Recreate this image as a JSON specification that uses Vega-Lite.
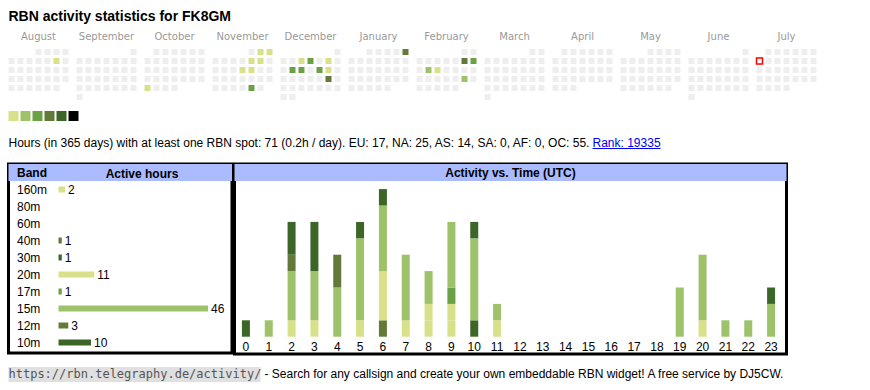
{
"$schema":"https://vega.github.io/schema/vega-lite/v6.json",
"padding":{"left":6.5,"top":0,"right":0,"bottom":0},
"background":"white",
"bounds":"flush",
"spacing":0,
"config":{"view":{"stroke":null},"font":"Liberation Sans","text":{"font":"Liberation Sans"},"axis":{"labelFont":"Liberation Sans","titleFont":"Liberation Sans"}},
"resolve":{"scale":{"fill":"independent","color":"independent"}},
"vconcat":[
{"width":808,"height":49,
 "data":{"values":[{"t":"RBN activity statistics for FK8GM"}]},
 "mark":{"type":"text","align":"left","baseline":"alphabetic","font":"Liberation Sans","fontSize":14,"fontWeight":"bold","color":"#000000"},
 "encoding":{"text":{"field":"t"},"x":{"value":0},"y":{"value":21}}},
{"width":808,"height":62,
 "data":{"values":[
{"m":"August","r":0,"c":3,"v":0},{"m":"August","r":0,"c":4,"v":0},{"m":"August","r":0,"c":5,"v":0},{"m":"August","r":0,"c":6,"v":0},
{"m":"August","r":1,"c":0,"v":0},{"m":"August","r":1,"c":1,"v":0},{"m":"August","r":1,"c":2,"v":0},{"m":"August","r":1,"c":3,"v":0},{"m":"August","r":1,"c":4,"v":0},{"m":"August","r":1,"c":5,"v":1},{"m":"August","r":1,"c":6,"v":0},
{"m":"August","r":2,"c":0,"v":0},{"m":"August","r":2,"c":1,"v":0},{"m":"August","r":2,"c":2,"v":0},{"m":"August","r":2,"c":3,"v":0},{"m":"August","r":2,"c":4,"v":0},{"m":"August","r":2,"c":5,"v":0},{"m":"August","r":2,"c":6,"v":0},
{"m":"August","r":3,"c":0,"v":0},{"m":"August","r":3,"c":1,"v":0},{"m":"August","r":3,"c":2,"v":0},{"m":"August","r":3,"c":3,"v":0},{"m":"August","r":3,"c":4,"v":0},{"m":"August","r":3,"c":5,"v":0},{"m":"August","r":3,"c":6,"v":0},
{"m":"August","r":4,"c":0,"v":0},{"m":"August","r":4,"c":1,"v":0},{"m":"August","r":4,"c":2,"v":0},{"m":"August","r":4,"c":3,"v":0},{"m":"August","r":4,"c":4,"v":0},{"m":"August","r":4,"c":5,"v":0},
{"m":"September","r":0,"c":6,"v":0},
{"m":"September","r":1,"c":0,"v":0},{"m":"September","r":1,"c":1,"v":0},{"m":"September","r":1,"c":2,"v":0},{"m":"September","r":1,"c":3,"v":0},{"m":"September","r":1,"c":4,"v":0},{"m":"September","r":1,"c":5,"v":0},{"m":"September","r":1,"c":6,"v":0},
{"m":"September","r":2,"c":0,"v":0},{"m":"September","r":2,"c":1,"v":0},{"m":"September","r":2,"c":2,"v":0},{"m":"September","r":2,"c":3,"v":0},{"m":"September","r":2,"c":4,"v":0},{"m":"September","r":2,"c":5,"v":0},{"m":"September","r":2,"c":6,"v":0},
{"m":"September","r":3,"c":0,"v":0},{"m":"September","r":3,"c":1,"v":0},{"m":"September","r":3,"c":2,"v":0},{"m":"September","r":3,"c":3,"v":0},{"m":"September","r":3,"c":4,"v":0},{"m":"September","r":3,"c":5,"v":0},{"m":"September","r":3,"c":6,"v":0},
{"m":"September","r":4,"c":0,"v":0},{"m":"September","r":4,"c":1,"v":0},{"m":"September","r":4,"c":2,"v":0},{"m":"September","r":4,"c":3,"v":0},{"m":"September","r":4,"c":4,"v":0},{"m":"September","r":4,"c":5,"v":0},{"m":"September","r":4,"c":6,"v":0},
{"m":"September","r":5,"c":0,"v":0},
{"m":"October","r":0,"c":1,"v":0},{"m":"October","r":0,"c":2,"v":0},{"m":"October","r":0,"c":3,"v":0},{"m":"October","r":0,"c":4,"v":0},{"m":"October","r":0,"c":5,"v":0},{"m":"October","r":0,"c":6,"v":0},
{"m":"October","r":1,"c":0,"v":0},{"m":"October","r":1,"c":1,"v":0},{"m":"October","r":1,"c":2,"v":0},{"m":"October","r":1,"c":3,"v":0},{"m":"October","r":1,"c":4,"v":0},{"m":"October","r":1,"c":5,"v":0},{"m":"October","r":1,"c":6,"v":0},
{"m":"October","r":2,"c":0,"v":0},{"m":"October","r":2,"c":1,"v":0},{"m":"October","r":2,"c":2,"v":0},{"m":"October","r":2,"c":3,"v":0},{"m":"October","r":2,"c":4,"v":0},{"m":"October","r":2,"c":5,"v":0},{"m":"October","r":2,"c":6,"v":0},
{"m":"October","r":3,"c":0,"v":0},{"m":"October","r":3,"c":1,"v":0},{"m":"October","r":3,"c":2,"v":0},{"m":"October","r":3,"c":3,"v":0},{"m":"October","r":3,"c":4,"v":0},{"m":"October","r":3,"c":5,"v":0},{"m":"October","r":3,"c":6,"v":0},
{"m":"October","r":4,"c":0,"v":1},{"m":"October","r":4,"c":1,"v":0},{"m":"October","r":4,"c":2,"v":0},{"m":"October","r":4,"c":3,"v":0},
{"m":"November","r":0,"c":4,"v":0},{"m":"November","r":0,"c":5,"v":1},{"m":"November","r":0,"c":6,"v":1},
{"m":"November","r":1,"c":0,"v":0},{"m":"November","r":1,"c":1,"v":0},{"m":"November","r":1,"c":2,"v":0},{"m":"November","r":1,"c":3,"v":0},{"m":"November","r":1,"c":4,"v":1},{"m":"November","r":1,"c":5,"v":1},{"m":"November","r":1,"c":6,"v":0},
{"m":"November","r":2,"c":0,"v":0},{"m":"November","r":2,"c":1,"v":0},{"m":"November","r":2,"c":2,"v":0},{"m":"November","r":2,"c":3,"v":1},{"m":"November","r":2,"c":4,"v":1},{"m":"November","r":2,"c":5,"v":0},{"m":"November","r":2,"c":6,"v":0},
{"m":"November","r":3,"c":0,"v":0},{"m":"November","r":3,"c":1,"v":0},{"m":"November","r":3,"c":2,"v":0},{"m":"November","r":3,"c":3,"v":0},{"m":"November","r":3,"c":4,"v":0},{"m":"November","r":3,"c":5,"v":0},{"m":"November","r":3,"c":6,"v":0},
{"m":"November","r":4,"c":0,"v":0},{"m":"November","r":4,"c":1,"v":0},{"m":"November","r":4,"c":2,"v":0},{"m":"November","r":4,"c":3,"v":0},{"m":"November","r":4,"c":4,"v":3},{"m":"November","r":4,"c":5,"v":0},
{"m":"December","r":0,"c":6,"v":0},
{"m":"December","r":1,"c":0,"v":0},{"m":"December","r":1,"c":1,"v":0},{"m":"December","r":1,"c":2,"v":1},{"m":"December","r":1,"c":3,"v":3},{"m":"December","r":1,"c":4,"v":0},{"m":"December","r":1,"c":5,"v":1},{"m":"December","r":1,"c":6,"v":0},
{"m":"December","r":2,"c":0,"v":0},{"m":"December","r":2,"c":1,"v":3},{"m":"December","r":2,"c":2,"v":3},{"m":"December","r":2,"c":3,"v":0},{"m":"December","r":2,"c":4,"v":3},{"m":"December","r":2,"c":5,"v":1},{"m":"December","r":2,"c":6,"v":0},
{"m":"December","r":3,"c":0,"v":0},{"m":"December","r":3,"c":1,"v":0},{"m":"December","r":3,"c":2,"v":0},{"m":"December","r":3,"c":3,"v":0},{"m":"December","r":3,"c":4,"v":0},{"m":"December","r":3,"c":5,"v":4},{"m":"December","r":3,"c":6,"v":0},
{"m":"December","r":4,"c":0,"v":0},{"m":"December","r":4,"c":1,"v":0},{"m":"December","r":4,"c":2,"v":0},{"m":"December","r":4,"c":3,"v":0},{"m":"December","r":4,"c":4,"v":0},{"m":"December","r":4,"c":5,"v":0},{"m":"December","r":4,"c":6,"v":0},
{"m":"December","r":5,"c":0,"v":0},{"m":"December","r":5,"c":1,"v":0},
{"m":"January","r":0,"c":2,"v":0},{"m":"January","r":0,"c":3,"v":0},{"m":"January","r":0,"c":4,"v":0},{"m":"January","r":0,"c":5,"v":0},{"m":"January","r":0,"c":6,"v":4},
{"m":"January","r":1,"c":0,"v":0},{"m":"January","r":1,"c":1,"v":0},{"m":"January","r":1,"c":2,"v":0},{"m":"January","r":1,"c":3,"v":0},{"m":"January","r":1,"c":4,"v":0},{"m":"January","r":1,"c":5,"v":0},{"m":"January","r":1,"c":6,"v":0},
{"m":"January","r":2,"c":0,"v":0},{"m":"January","r":2,"c":1,"v":0},{"m":"January","r":2,"c":2,"v":0},{"m":"January","r":2,"c":3,"v":0},{"m":"January","r":2,"c":4,"v":0},{"m":"January","r":2,"c":5,"v":0},{"m":"January","r":2,"c":6,"v":0},
{"m":"January","r":3,"c":0,"v":0},{"m":"January","r":3,"c":1,"v":0},{"m":"January","r":3,"c":2,"v":0},{"m":"January","r":3,"c":3,"v":0},{"m":"January","r":3,"c":4,"v":0},{"m":"January","r":3,"c":5,"v":0},{"m":"January","r":3,"c":6,"v":0},
{"m":"January","r":4,"c":0,"v":0},{"m":"January","r":4,"c":1,"v":0},{"m":"January","r":4,"c":2,"v":0},{"m":"January","r":4,"c":3,"v":0},{"m":"January","r":4,"c":4,"v":0},
{"m":"February","r":0,"c":5,"v":0},{"m":"February","r":0,"c":6,"v":0},
{"m":"February","r":1,"c":0,"v":0},{"m":"February","r":1,"c":1,"v":0},{"m":"February","r":1,"c":2,"v":0},{"m":"February","r":1,"c":3,"v":0},{"m":"February","r":1,"c":4,"v":0},{"m":"February","r":1,"c":5,"v":4},{"m":"February","r":1,"c":6,"v":3},
{"m":"February","r":2,"c":0,"v":0},{"m":"February","r":2,"c":1,"v":2},{"m":"February","r":2,"c":2,"v":1},{"m":"February","r":2,"c":3,"v":0},{"m":"February","r":2,"c":4,"v":0},{"m":"February","r":2,"c":5,"v":0},{"m":"February","r":2,"c":6,"v":0},
{"m":"February","r":3,"c":0,"v":0},{"m":"February","r":3,"c":1,"v":0},{"m":"February","r":3,"c":2,"v":0},{"m":"February","r":3,"c":3,"v":0},{"m":"February","r":3,"c":4,"v":0},{"m":"February","r":3,"c":5,"v":2},{"m":"February","r":3,"c":6,"v":0},
{"m":"February","r":4,"c":0,"v":0},{"m":"February","r":4,"c":1,"v":0},{"m":"February","r":4,"c":2,"v":0},{"m":"February","r":4,"c":3,"v":0},{"m":"February","r":4,"c":4,"v":0},
{"m":"March","r":0,"c":5,"v":0},{"m":"March","r":0,"c":6,"v":0},
{"m":"March","r":1,"c":0,"v":0},{"m":"March","r":1,"c":1,"v":0},{"m":"March","r":1,"c":2,"v":0},{"m":"March","r":1,"c":3,"v":0},{"m":"March","r":1,"c":4,"v":0},{"m":"March","r":1,"c":5,"v":0},{"m":"March","r":1,"c":6,"v":0},
{"m":"March","r":2,"c":0,"v":0},{"m":"March","r":2,"c":1,"v":0},{"m":"March","r":2,"c":2,"v":0},{"m":"March","r":2,"c":3,"v":0},{"m":"March","r":2,"c":4,"v":0},{"m":"March","r":2,"c":5,"v":0},{"m":"March","r":2,"c":6,"v":0},
{"m":"March","r":3,"c":0,"v":0},{"m":"March","r":3,"c":1,"v":0},{"m":"March","r":3,"c":2,"v":0},{"m":"March","r":3,"c":3,"v":0},{"m":"March","r":3,"c":4,"v":0},{"m":"March","r":3,"c":5,"v":0},{"m":"March","r":3,"c":6,"v":0},
{"m":"March","r":4,"c":0,"v":0},{"m":"March","r":4,"c":1,"v":0},{"m":"March","r":4,"c":2,"v":0},{"m":"March","r":4,"c":3,"v":0},{"m":"March","r":4,"c":4,"v":0},{"m":"March","r":4,"c":5,"v":0},{"m":"March","r":4,"c":6,"v":0},
{"m":"March","r":5,"c":0,"v":0},
{"m":"April","r":0,"c":1,"v":0},{"m":"April","r":0,"c":2,"v":0},{"m":"April","r":0,"c":3,"v":0},{"m":"April","r":0,"c":4,"v":0},{"m":"April","r":0,"c":5,"v":0},{"m":"April","r":0,"c":6,"v":0},
{"m":"April","r":1,"c":0,"v":0},{"m":"April","r":1,"c":1,"v":0},{"m":"April","r":1,"c":2,"v":0},{"m":"April","r":1,"c":3,"v":0},{"m":"April","r":1,"c":4,"v":0},{"m":"April","r":1,"c":5,"v":0},{"m":"April","r":1,"c":6,"v":0},
{"m":"April","r":2,"c":0,"v":0},{"m":"April","r":2,"c":1,"v":0},{"m":"April","r":2,"c":2,"v":0},{"m":"April","r":2,"c":3,"v":0},{"m":"April","r":2,"c":4,"v":0},{"m":"April","r":2,"c":5,"v":0},{"m":"April","r":2,"c":6,"v":0},
{"m":"April","r":3,"c":0,"v":0},{"m":"April","r":3,"c":1,"v":0},{"m":"April","r":3,"c":2,"v":0},{"m":"April","r":3,"c":3,"v":0},{"m":"April","r":3,"c":4,"v":0},{"m":"April","r":3,"c":5,"v":0},{"m":"April","r":3,"c":6,"v":0},
{"m":"April","r":4,"c":0,"v":0},{"m":"April","r":4,"c":1,"v":0},{"m":"April","r":4,"c":2,"v":0},
{"m":"May","r":0,"c":3,"v":0},{"m":"May","r":0,"c":4,"v":0},{"m":"May","r":0,"c":5,"v":0},{"m":"May","r":0,"c":6,"v":0},
{"m":"May","r":1,"c":0,"v":0},{"m":"May","r":1,"c":1,"v":0},{"m":"May","r":1,"c":2,"v":0},{"m":"May","r":1,"c":3,"v":0},{"m":"May","r":1,"c":4,"v":0},{"m":"May","r":1,"c":5,"v":0},{"m":"May","r":1,"c":6,"v":0},
{"m":"May","r":2,"c":0,"v":0},{"m":"May","r":2,"c":1,"v":0},{"m":"May","r":2,"c":2,"v":0},{"m":"May","r":2,"c":3,"v":0},{"m":"May","r":2,"c":4,"v":0},{"m":"May","r":2,"c":5,"v":0},{"m":"May","r":2,"c":6,"v":0},
{"m":"May","r":3,"c":0,"v":0},{"m":"May","r":3,"c":1,"v":0},{"m":"May","r":3,"c":2,"v":0},{"m":"May","r":3,"c":3,"v":0},{"m":"May","r":3,"c":4,"v":0},{"m":"May","r":3,"c":5,"v":0},{"m":"May","r":3,"c":6,"v":0},
{"m":"May","r":4,"c":0,"v":0},{"m":"May","r":4,"c":1,"v":0},{"m":"May","r":4,"c":2,"v":0},{"m":"May","r":4,"c":3,"v":0},{"m":"May","r":4,"c":4,"v":0},{"m":"May","r":4,"c":5,"v":0},
{"m":"June","r":0,"c":6,"v":0},
{"m":"June","r":1,"c":0,"v":0},{"m":"June","r":1,"c":1,"v":0},{"m":"June","r":1,"c":2,"v":0},{"m":"June","r":1,"c":3,"v":0},{"m":"June","r":1,"c":4,"v":0},{"m":"June","r":1,"c":5,"v":0},{"m":"June","r":1,"c":6,"v":0},
{"m":"June","r":2,"c":0,"v":0},{"m":"June","r":2,"c":1,"v":0},{"m":"June","r":2,"c":2,"v":0},{"m":"June","r":2,"c":3,"v":0},{"m":"June","r":2,"c":4,"v":0},{"m":"June","r":2,"c":5,"v":0},{"m":"June","r":2,"c":6,"v":0},
{"m":"June","r":3,"c":0,"v":0},{"m":"June","r":3,"c":1,"v":0},{"m":"June","r":3,"c":2,"v":0},{"m":"June","r":3,"c":3,"v":0},{"m":"June","r":3,"c":4,"v":0},{"m":"June","r":3,"c":5,"v":0},{"m":"June","r":3,"c":6,"v":0},
{"m":"June","r":4,"c":0,"v":0},{"m":"June","r":4,"c":1,"v":0},{"m":"June","r":4,"c":2,"v":0},{"m":"June","r":4,"c":3,"v":0},{"m":"June","r":4,"c":4,"v":0},{"m":"June","r":4,"c":5,"v":0},{"m":"June","r":4,"c":6,"v":0},
{"m":"June","r":5,"c":0,"v":0},
{"m":"July","r":0,"c":1,"v":0},{"m":"July","r":0,"c":2,"v":0},{"m":"July","r":0,"c":3,"v":0},{"m":"July","r":0,"c":4,"v":0},{"m":"July","r":0,"c":5,"v":0},{"m":"July","r":0,"c":6,"v":0},
{"m":"July","r":1,"c":0,"v":0},{"m":"July","r":1,"c":1,"v":0},{"m":"July","r":1,"c":2,"v":0},{"m":"July","r":1,"c":3,"v":0},{"m":"July","r":1,"c":4,"v":0},{"m":"July","r":1,"c":5,"v":0},{"m":"July","r":1,"c":6,"v":0},
{"m":"July","r":2,"c":0,"v":0},{"m":"July","r":2,"c":1,"v":0},{"m":"July","r":2,"c":2,"v":0},{"m":"July","r":2,"c":3,"v":0},{"m":"July","r":2,"c":4,"v":0},{"m":"July","r":2,"c":5,"v":0},{"m":"July","r":2,"c":6,"v":0},
{"m":"July","r":3,"c":0,"v":0},{"m":"July","r":3,"c":1,"v":0},{"m":"July","r":3,"c":2,"v":0},{"m":"July","r":3,"c":3,"v":0},{"m":"July","r":3,"c":4,"v":0},{"m":"July","r":3,"c":5,"v":0},{"m":"July","r":3,"c":6,"v":0},
{"m":"July","r":4,"c":0,"v":0},{"m":"July","r":4,"c":1,"v":0},{"m":"July","r":4,"c":2,"v":0},{"m":"July","r":4,"c":3,"v":0}
 ]},
 "encoding":{
  "x":{"field":"m","type":"nominal","scale":{"domain":["August","September","October","November","December","January","February","March","April","May","June","July"],"paddingInner":0.1176,"paddingOuter":0},
       "axis":{"orient":"top","title":null,"domain":false,"ticks":false,"tickSize":0,"labelAngle":0,"labelColor":"#999999","labelFont":"DejaVu Sans","labelFontSize":10,"labelPadding":10,"labelBaseline":"alphabetic"}},
  "xOffset":{"field":"c","type":"ordinal","scale":{"domain":[0,1,2,3,4,5,6],"paddingInner":0.3333,"paddingOuter":0}},
  "y":{"field":"r","type":"ordinal","scale":{"domain":[0,1,2,3,4,5],"range":[0,51],"paddingInner":0.3333,"paddingOuter":0},"axis":null}
 },
 "layer":[
  {"mark":{"type":"rect"},
   "encoding":{"fill":{"field":"v","type":"ordinal","scale":{"domain":[0,1,2,3,4,5,6],"range":["#eeeeee","#d9e08a","#9dc26a","#6aa046","#63793a","#3c6628","#000000"]},"legend":null}}},
  {"transform":[{"filter":"datum.m === 'July' && datum.r === 1 && datum.c === 0"}],
   "mark":{"type":"rect","fill":"#ffffff","stroke":"#ff0000","strokeWidth":1.5}}
 ]},
{"width":70,"height":10,
 "data":{"values":[{"v":1},{"v":2},{"v":3},{"v":4},{"v":5},{"v":6}]},
 "mark":{"type":"rect"},
 "encoding":{
  "x":{"field":"v","type":"ordinal","scale":{"paddingInner":0.1667,"paddingOuter":0},"axis":null},
  "fill":{"field":"v","type":"ordinal","scale":{"domain":[0,1,2,3,4,5,6],"range":["#eeeeee","#d9e08a","#9dc26a","#6aa046","#63793a","#3c6628","#000000"]},"legend":null}}},
{"width":808,"height":43,
 "data":{"values":[{"t":"Hours (in 365 days) with at least one RBN spot: 71 (0.2h / day). EU: 17, NA: 25, AS: 14, SA: 0, AF: 0, OC: 55.","rank":"Rank: 19335"}]},
 "layer":[
  {"mark":{"type":"text","align":"left","baseline":"alphabetic","font":"Liberation Sans","fontSize":12,"color":"#000000"},
   "encoding":{"text":{"field":"t"},"x":{"value":0},"y":{"value":25.5}}},
  {"mark":{"type":"text","align":"left","baseline":"alphabetic","font":"Liberation Sans","fontSize":12,"color":"#0000ee"},
   "encoding":{"text":{"field":"rank"},"x":{"value":584},"y":{"value":25.5}}},
  {"mark":{"type":"rule","color":"#0000ee","strokeWidth":1},
   "encoding":{"x":{"value":584},"x2":{"value":652},"y":{"value":27.5}}}
 ]},
{"hconcat":[
  {"width":223.5,"height":189,
   "view":{"stroke":"#000000","strokeWidth":3},
   "layer":[
    {"data":{"values":[{"band":"Band"}]},
     "mark":{"type":"rect","fill":"#aabbff"},
     "encoding":{
      "x":{"value":0},"x2":{"value":"width"},
      "y":{"field":"band","type":"nominal","scale":{"domain":["Band","160m","80m","60m","40m","30m","20m","17m","15m","12m","10m"],"range":[0,187],"paddingInner":0,"paddingOuter":0},
           "axis":{"orient":"left","title":null,"domain":false,"ticks":false,"tickSize":0,"labelAlign":"left","labelPadding":-8,"labelBaseline":"middle","labelFont":"Liberation Sans","labelFontSize":12,"labelColor":"#000000","labelFontWeight":{"condition":{"test":"datum.value === 'Band'","value":"bold"},"value":"normal"},"zindex":1}}}},
    {"data":{"values":[
      {"band":"160m","hours":2},{"band":"40m","hours":1},{"band":"30m","hours":1},{"band":"20m","hours":11},
      {"band":"17m","hours":1},{"band":"15m","hours":46},{"band":"12m","hours":3},{"band":"10m","hours":10}]},
     "encoding":{
      "y":{"field":"band","type":"nominal","scale":{"domain":["Band","160m","80m","60m","40m","30m","20m","17m","15m","12m","10m"],"range":[0,187],"paddingInner":0,"paddingOuter":0},
           "axis":{"orient":"left","title":null,"domain":false,"ticks":false,"tickSize":0,"labelAlign":"left","labelPadding":-8,"labelBaseline":"middle","labelFont":"Liberation Sans","labelFontSize":12,"labelColor":"#000000","labelFontWeight":{"condition":{"test":"datum.value === 'Band'","value":"bold"},"value":"normal"},"zindex":1}},
      "x":{"field":"hours","type":"quantitative","scale":{"domain":[-1.85,52.9],"range":[44,222],"nice":false,"zero":false},
           "axis":{"orient":"top","title":"Active hours","labels":false,"ticks":false,"domain":false,"grid":false,"titleFont":"Liberation Sans","titleFontSize":12,"titleFontWeight":"bold","titleColor":"#000000","titleY":13,"titleBaseline":"alphabetic","zindex":1}}},
     "layer":[
      {"mark":{"type":"bar","size":6},
       "encoding":{
        "color":{"field":"band","type":"nominal","scale":{"domain":["160m","80m","60m","40m","30m","20m","17m","15m","12m","10m"],"range":["#d9e08a","#cccccc","#cccccc","#63793a","#3c6628","#d9e08a","#6aa046","#9dc26a","#63793a","#3c6628"]},"legend":null}}},
      {"mark":{"type":"text","align":"left","baseline":"middle","dx":3,"font":"Liberation Sans","fontSize":12,"color":"#000000"},
       "encoding":{"text":{"field":"hours","type":"quantitative"}}}
     ]},
    {"data":{"values":[{"url":"https://rbn.telegraphy.de/activity/","t":"- Search for any callsign and create your own embeddable RBN widget! A free service by DJ5CW."}]},
     "layer":[
      {"mark":{"type":"rect","fill":"#e0e0e0"},
       "encoding":{"x":{"value":0},"x2":{"value":252},"y":{"value":203},"y2":{"value":218}}},
      {"mark":{"type":"text","align":"left","baseline":"alphabetic","font":"DejaVu Sans Mono","fontSize":12,"color":"#555555"},
       "encoding":{"text":{"field":"url"},"x":{"value":0},"y":{"value":214}}},
      {"mark":{"type":"text","align":"left","baseline":"alphabetic","font":"Liberation Sans","fontSize":12,"color":"#000000"},
       "encoding":{"text":{"field":"t"},"x":{"value":256},"y":{"value":214}}}
     ]}
   ]},
  {"width":552,"height":190,
   "view":{"stroke":"#000000","strokeWidth":3},
   "layer":[
    {"data":{"values":[{"part":"header","label":"Activity vs. Time (UTC)"}]},
     "layer":[
      {"mark":{"type":"rect","fill":"#aabbff"},
       "encoding":{"x":{"value":0},"x2":{"value":"width"},
        "y":{"field":"part","type":"nominal","scale":{"domain":["header"],"range":[0,17],"paddingInner":0,"paddingOuter":0},"axis":null}}},
      {"mark":{"type":"text","baseline":"middle","font":"Liberation Sans","fontSize":12,"fontWeight":"bold","color":"#000000"},
       "encoding":{"text":{"field":"label"},
        "y":{"field":"part","type":"nominal","scale":{"domain":["header"],"range":[0,17],"paddingInner":0,"paddingOuter":0},"axis":null}}}
     ]},
    {"data":{"values":[
      {"hour":0,"band":"10m","bi":9,"hours":1},
      {"hour":1,"band":"15m","bi":7,"hours":1},
      {"hour":2,"band":"20m","bi":5,"hours":1},{"hour":2,"band":"15m","bi":7,"hours":3},{"hour":2,"band":"12m","bi":8,"hours":1},{"hour":2,"band":"10m","bi":9,"hours":2},
      {"hour":3,"band":"20m","bi":5,"hours":1},{"hour":3,"band":"15m","bi":7,"hours":3},{"hour":3,"band":"10m","bi":9,"hours":3},
      {"hour":4,"band":"15m","bi":7,"hours":3},{"hour":4,"band":"12m","bi":8,"hours":2},
      {"hour":5,"band":"20m","bi":5,"hours":1},{"hour":5,"band":"15m","bi":7,"hours":5},{"hour":5,"band":"10m","bi":9,"hours":1},
      {"hour":6,"band":"40m","bi":3,"hours":1},{"hour":6,"band":"20m","bi":5,"hours":3},{"hour":6,"band":"15m","bi":7,"hours":4},{"hour":6,"band":"10m","bi":9,"hours":1},
      {"hour":7,"band":"20m","bi":5,"hours":1},{"hour":7,"band":"15m","bi":7,"hours":4},
      {"hour":8,"band":"160m","bi":0,"hours":1},{"hour":8,"band":"20m","bi":5,"hours":1},{"hour":8,"band":"15m","bi":7,"hours":2},
      {"hour":9,"band":"160m","bi":0,"hours":1},{"hour":9,"band":"20m","bi":5,"hours":1},{"hour":9,"band":"17m","bi":6,"hours":1},{"hour":9,"band":"15m","bi":7,"hours":4},
      {"hour":10,"band":"30m","bi":4,"hours":1},{"hour":10,"band":"15m","bi":7,"hours":5},{"hour":10,"band":"10m","bi":9,"hours":1},
      {"hour":11,"band":"20m","bi":5,"hours":1},{"hour":11,"band":"15m","bi":7,"hours":1},
      {"hour":19,"band":"15m","bi":7,"hours":3},
      {"hour":20,"band":"20m","bi":5,"hours":1},{"hour":20,"band":"15m","bi":7,"hours":4},
      {"hour":21,"band":"15m","bi":7,"hours":1},
      {"hour":22,"band":"15m","bi":7,"hours":1},
      {"hour":23,"band":"15m","bi":7,"hours":2},{"hour":23,"band":"10m","bi":9,"hours":1}]},
     "mark":{"type":"bar","size":8},
     "encoding":{
      "x":{"field":"hour","type":"ordinal","scale":{"domain":[0,1,2,3,4,5,6,7,8,9,10,11,12,13,14,15,16,17,18,19,20,21,22,23],"range":[0,548],"paddingInner":0.65,"paddingOuter":0.325},
           "axis":{"orient":"bottom","title":null,"domain":false,"ticks":false,"tickSize":0,"labelAngle":0,"labelPadding":0,"labelBaseline":"middle","offset":-8,"labelFont":"Liberation Sans","labelFontSize":12,"labelColor":"#000000","zindex":1}},
      "y":{"field":"hours","type":"quantitative","stack":"zero","scale":{"domain":[0,9],"range":[172.7,25.1],"nice":false},"axis":null},
      "color":{"field":"band","type":"nominal","scale":{"domain":["160m","80m","60m","40m","30m","20m","17m","15m","12m","10m"],"range":["#d9e08a","#cccccc","#cccccc","#63793a","#3c6628","#d9e08a","#6aa046","#9dc26a","#63793a","#3c6628"]},"legend":null},
      "order":{"field":"bi","type":"quantitative","sort":"ascending"}}}
   ],
   "resolve":{"scale":{"y":"independent"}}}
 ],
 "spacing":2,
 "bounds":"flush"}
]
}
